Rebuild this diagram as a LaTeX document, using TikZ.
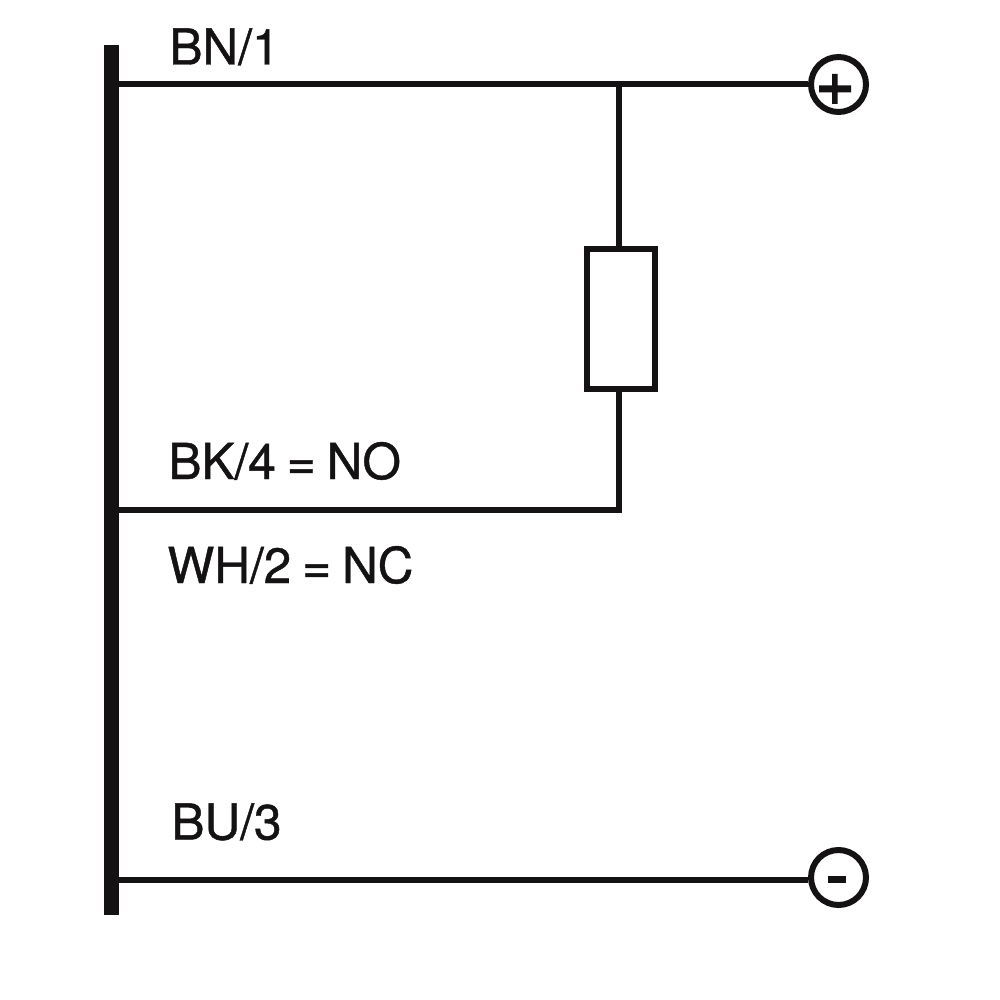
\documentclass[tikz,border=0pt]{standalone}
\usepackage{fontspec}
\newfontfamily\wirefont[FakeBold=0.9,WordSpace=0.8]{TeX Gyre Heros}
\definecolor{wireblack}{RGB}{20,18,18}
\begin{document}
\begin{tikzpicture}[x=1pt,y=-1pt,line width=6pt,color=wireblack,
  wirelabel/.style={inner sep=0pt,anchor=base west,font=\wirefont\fontsize{49.5}{49.5}\selectfont},
  terminal/.style={draw,circle,inner sep=0pt,minimum size=55pt,line width=6pt,fill=white}]
\useasboundingbox (0,0) rectangle (1000,1000);
\fill [wireblack] (104,45) rectangle (119,915);
\coordinate (top) at (119,84.5);
\coordinate (mid) at (119,510);
\coordinate (bot) at (119,880);
\coordinate (tee) at (619.2,84.5);
\node [terminal] (plus) at (838.5,84.5) {};
\node [terminal] (minus) at (838.5,877.5) {};
\node [draw,line width=6pt,minimum width=68pt,minimum height=140pt,inner sep=0pt] (res) at (620.5,318.7) {};
\draw (top) -- (plus);
\draw (tee) -- (res.north -| tee);
\draw (mid) -| (res.south -| tee);
\draw (bot) -- (bot -| minus.west);
\fill [wireblack] (819,85.5) rectangle (851,92.5) (832,74) rectangle (837.5,104);
\fill [wireblack] (828,876) rectangle (846,883);
\node [wirelabel] (bn) at (166.5,64.5) {BN/1};
\node [wirelabel] (bk) at (165.5,479) {BK/4 = NO};
\node [wirelabel] (wh) at (164.5,583) {WH/2 = NC};
\node [wirelabel] (bu) at (168.5,839.5) {BU/3};
\end{tikzpicture}
\end{document}
